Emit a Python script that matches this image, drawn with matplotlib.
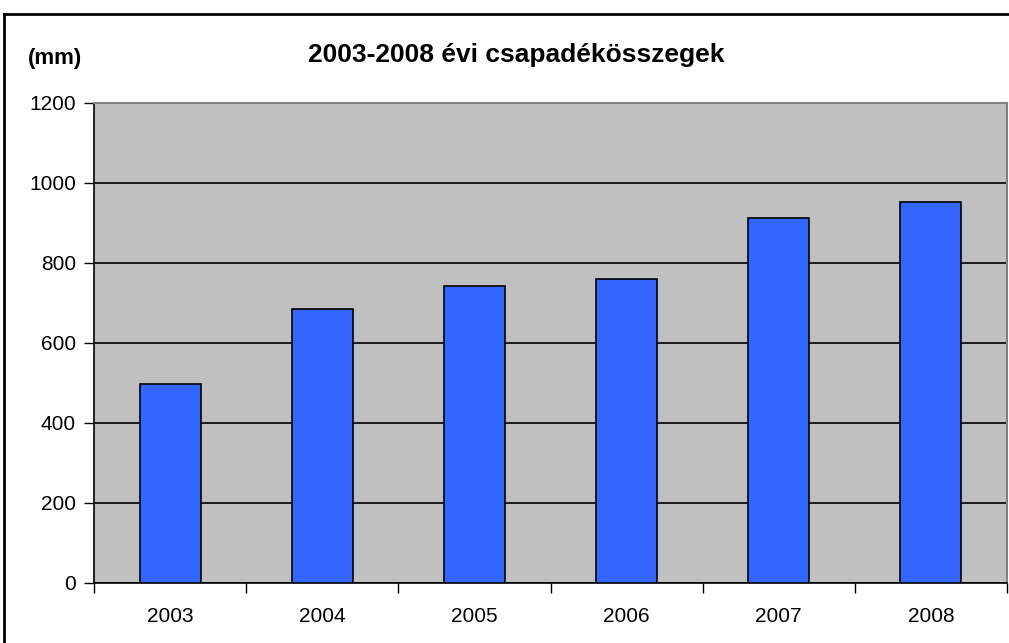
import matplotlib
matplotlib.use("Agg")
import matplotlib.pyplot as plt
from matplotlib.lines import Line2D
import numpy as np

years = ["2003", "2004", "2005", "2006", "2007", "2008"]
values = [497, 686, 743, 760, 912, 953]
yticks = [0, 200, 400, 600, 800, 1000, 1200]

plt.rcParams['font.family'] = ['Liberation Sans', 'DejaVu Sans']

W, H = 1009, 643
fig = plt.figure(figsize=(W / 100, H / 100), dpi=100)
fig.patch.set_facecolor('white')

# outer chart frame (left and top edges visible)
fig.add_artist(Line2D([4 / W, 4 / W], [0, 1 - 14 / H], transform=fig.transFigure, color='black', lw=2))
fig.add_artist(Line2D([4 / W, 1.0], [1 - 14 / H, 1 - 14 / H], transform=fig.transFigure, color='black', lw=2))

left, right, top, bottom = 94, 1007, 103, 583
ax = fig.add_axes([left / W, 1 - bottom / H, (right - left) / W, (bottom - top) / H])
ax.set_facecolor('#C0C0C0')

x = np.arange(len(years))
ax.bar(x, values, width=0.4, color='#3366FF', edgecolor='black', linewidth=1.2, zorder=3)

ax.set_xlim(-0.5, len(years) - 0.5)
ax.set_ylim(0, 1200)
ax.set_yticks(yticks)
ax.set_yticklabels([str(v) for v in yticks], fontsize=15)
ax.yaxis.grid(True, color='black', linewidth=1.2, zorder=1)
ax.set_axisbelow(True)

ax.set_xticks(np.arange(-0.5, len(years), 1.0))
ax.set_xticklabels([])
ax.set_xticks(x, minor=True)
ax.set_xticklabels(years, minor=True, fontsize=15)
ax.tick_params(axis='x', which='major', length=7, width=1, direction='out', color='black')
ax.tick_params(axis='x', which='minor', length=0, pad=17)
ax.tick_params(axis='y', length=7, width=1, direction='out', pad=6)

for s in ['left', 'bottom']:
    ax.spines[s].set_color('black')
    ax.spines[s].set_linewidth(1.2)
ax.spines['top'].set_color('#808080')
ax.spines['top'].set_linewidth(1.5)
ax.spines['right'].set_color('#808080')
ax.spines['right'].set_linewidth(1.5)

fig.text(516 / W, 1 - 62 / H, "2003-2008 évi csapadékösszegek", ha='center', va='baseline',
         fontsize=19, fontweight='bold')
fig.text(55 / W, 1 - 64 / H, "(mm)", ha='center', va='baseline', fontsize=16, fontweight='bold')

fig.savefig("out.png", dpi=100)
